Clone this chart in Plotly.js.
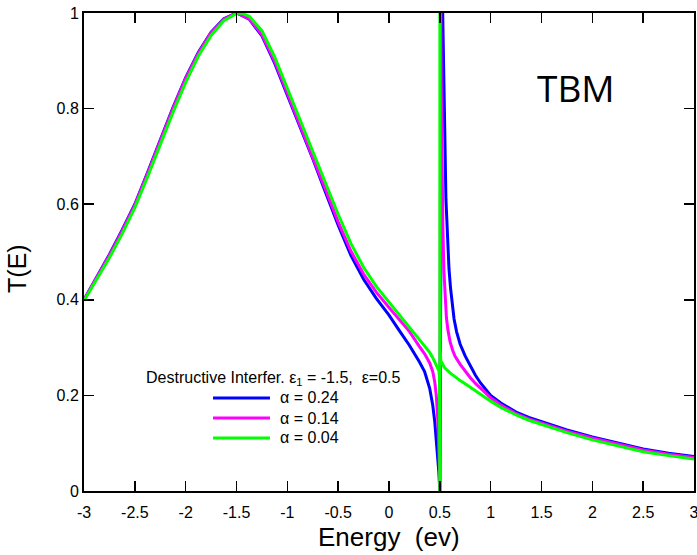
<!DOCTYPE html>
<html>
<head>
<meta charset="utf-8">
<script src="https://cdn.plot.ly/plotly-3.0.1.min.js"></script>
<style>html,body{margin:0;padding:0;background:#fff;}#chart{width:697px;height:555px;}</style>
</head>
<body>
<div id="chart"></div>
<script>
// Energy (eV) and transmission values
const E_blue = [-3,-2.875,-2.75,-2.625,-2.5,-2.375,-2.25,-2.125,-2,-1.875,-1.75,-1.625,-1.5,-1.375,-1.25,-1.125,-1,-0.875,-0.75,-0.625,-0.5,-0.375,-0.25,-0.125,0,0.1,0.2,0.3,0.35,0.4,0.43,0.45,0.465,0.48,0.49,0.497,0.5,
  0.505,0.512,0.52,0.528,0.537,0.548,0.56,0.575,0.59,0.605,0.62,0.64,0.665,0.7,0.75,0.8,0.85,0.9,0.95,1.0,1.1,1.25,1.375,1.5,1.75,2.0,2.25,2.5,2.75,3.0];
const T_blue = [0.40,0.447,0.495,0.546,0.60,0.666,0.735,0.802,0.865,0.918,0.96,0.988,1.0,0.987,0.952,0.895,0.828,0.762,0.695,0.625,0.556,0.493,0.443,0.403,0.368,0.336,0.305,0.27,0.25,0.215,0.18,0.145,0.11,0.07,0.04,0.012,0,
  0.25,0.65,0.93,1.0,0.92,0.76,0.61,0.525,0.465,0.425,0.395,0.36,0.333,0.307,0.282,0.261,0.242,0.226,0.212,0.20,0.184,0.165,0.154,0.145,0.128,0.113,0.10,0.088,0.079,0.072];

const E_mag = [-3,-2.875,-2.75,-2.625,-2.5,-2.375,-2.25,-2.125,-2,-1.875,-1.75,-1.625,-1.5,-1.375,-1.25,-1.125,-1,-0.875,-0.75,-0.625,-0.5,-0.375,-0.25,-0.125,0,0.1,0.2,0.3,0.35,0.4,0.43,0.45,0.465,0.48,0.49,0.497,0.5,
  0.502,0.505,0.509,0.514,0.52,0.53,0.54,0.552,0.565,0.58,0.6,0.625,0.65,0.7,0.75,0.8,0.85,0.9,0.95,1.0,1.1,1.25,1.375,1.5,1.75,2.0,2.25,2.5,2.75,3.0];
const T_mag = [0.40,0.446,0.493,0.544,0.598,0.664,0.733,0.80,0.863,0.916,0.959,0.987,1.0,0.988,0.955,0.899,0.832,0.766,0.70,0.631,0.563,0.502,0.454,0.416,0.384,0.36,0.334,0.302,0.287,0.268,0.25,0.228,0.20,0.15,0.10,0.04,0,
  0.4,0.85,1.0,0.85,0.7,0.55,0.46,0.40,0.362,0.336,0.313,0.295,0.282,0.265,0.25,0.237,0.225,0.215,0.204,0.195,0.18,0.162,0.151,0.142,0.125,0.111,0.098,0.086,0.077,0.070];

const E_green = [-3,-2.875,-2.75,-2.625,-2.5,-2.375,-2.25,-2.125,-2,-1.875,-1.75,-1.625,-1.5,-1.45,-1.375,-1.25,-1.125,-1,-0.875,-0.75,-0.625,-0.5,-0.375,-0.25,-0.125,0,0.1,0.2,0.3,0.35,0.4,0.43,0.45,0.465,0.48,0.49,0.496,0.499,0.5,
  0.5005,0.502,0.51,0.53,0.55,0.6,0.7,0.8,0.9,1.0,1.1,1.25,1.375,1.5,1.75,2.0,2.25,2.5,2.75,3.0];
const T_green = [0.398,0.442,0.488,0.538,0.593,0.657,0.725,0.792,0.855,0.91,0.953,0.984,0.999,1.0,0.993,0.963,0.908,0.842,0.777,0.712,0.645,0.579,0.518,0.468,0.428,0.395,0.368,0.342,0.317,0.304,0.29,0.279,0.27,0.263,0.257,0.252,0.24,0.15,0,
  1.0,0.30,0.272,0.263,0.257,0.247,0.231,0.217,0.202,0.188,0.175,0.159,0.148,0.139,0.122,0.107,0.094,0.082,0.074,0.067];

const seriesNames = ['α = 0.24','α = 0.14','α = 0.04'];
const seriesColors = ['#0000ff','#ff00ff','#00ff00'];
const xTicks = [-3,-2.5,-2,-1.5,-1,-0.5,0,0.5,1,1.5,2,2.5,3];
const xTickText = ['-3','-2.5','-2','-1.5','-1','-0.5','0','0.5','1','1.5','2','2.5','3'];
const yTicks = [0,0.2,0.4,0.6,0.8,1];
const yTickText = ['0','0.2','0.4','0.6','0.8','1'];

const font = 'Arial, "Liberation Sans", sans-serif';
const Es = [E_blue,E_mag,E_green];
const Ts = [T_blue,T_mag,T_green];
const traces = Es.map((e,i)=>({
  x:e, y:Ts[i], type:'scatter', mode:'lines', name:seriesNames[i],
  line:{color:seriesColors[i], width:3}, showlegend:false
}));

// hand-made legend (layout decoration)
const legY = [0.1946,0.1527,0.1109];
const shapes = legY.map((y,i)=>({type:'line', xref:'paper', yref:'paper', x0:0.2115, x1:0.3049, y0:y, y1:y, line:{color:seriesColors[i], width:3}}));
const annotations = legY.map((y,i)=>({xref:'paper', yref:'paper', x:0.318, y:y, xanchor:'left', yanchor:'middle', showarrow:false, text:seriesNames[i], font:{family:font, size:16, color:'#000'}}));
annotations.push({xref:'paper', yref:'paper', x:0.0984, y:0.2364, xanchor:'left', yanchor:'middle', showarrow:false,
  text:'Destructive Interfer. ε<sub>1</sub> = -1.5,\u00A0\u00A0ε=0.5', font:{family:font, size:16, color:'#000'}});
annotations.push({xref:'paper', yref:'paper', x:0.8066, y:0.845, xanchor:'center', yanchor:'middle', showarrow:false,
  text:'TBM', font:{family:'"Open Sans", sans-serif', size:37, color:'#000'}});
annotations.push({xref:'paper', yref:'paper', x:-0.110, y:0.4665, xanchor:'center', yanchor:'middle', showarrow:false, textangle:-90,
  text:'T(E)', font:{family:font, size:25, color:'#000'}});
annotations.push({xref:'paper', yref:'paper', x:0.500, y:-0.0962, xanchor:'center', yanchor:'middle', showarrow:false,
  text:'Energy\u00A0\u00A0(ev)', font:{family:font, size:26, color:'#000'}});

const layout = {
  width:697, height:555,
  margin:{l:84, r:3, t:13, b:64},
  paper_bgcolor:'#fff', plot_bgcolor:'#fff',
  showlegend:false,
  xaxis:{range:[-3,3], tickmode:'array', tickvals:xTicks, ticktext:xTickText, ticks:'inside', ticklen:10, tickwidth:1.5, tickcolor:'#000',
    showline:true, linewidth:2, linecolor:'#000', mirror:'ticks', showgrid:false, zeroline:false,
    ticklabeloverflow:'allow', ticklabelstandoff:6,
    tickfont:{family:font, size:16, color:'#000'}},
  yaxis:{range:[0,1], tickmode:'array', tickvals:yTicks, ticktext:yTickText, ticks:'inside', ticklen:10, tickwidth:1.5, tickcolor:'#000',
    showline:true, linewidth:2, linecolor:'#000', mirror:'ticks', showgrid:false, zeroline:false,
    ticklabeloverflow:'allow',
    tickfont:{family:font, size:16, color:'#000'}},
  shapes:shapes,
  annotations:annotations
};
Plotly.newPlot('chart', traces, layout, {displayModeBar:false, staticPlot:true});
</script>
</body>
</html>
